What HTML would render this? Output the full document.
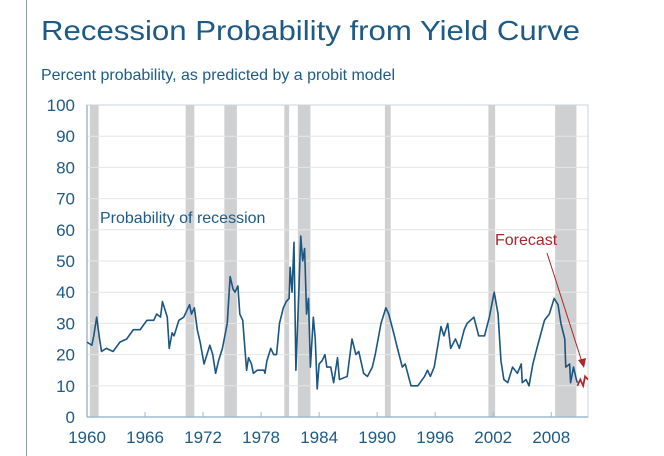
<!DOCTYPE html>
<html><head><meta charset="utf-8"><style>
body{margin:0;background:#fff;}
svg{display:block;font-family:"Liberation Sans",sans-serif;}
</style></head><body>
<svg id="chart" width="664" height="456" viewBox="0 0 664 456">
<line x1="26.5" y1="0" x2="26.5" y2="456" stroke="#8d9bb0" stroke-width="1"/>
<text x="41" y="40" font-size="28" fill="#1d5a85" textLength="539" lengthAdjust="spacingAndGlyphs">Recession Probability from Yield Curve</text>
<text x="41" y="80" font-size="16" fill="#1d5a85" textLength="354" lengthAdjust="spacingAndGlyphs">Percent probability, as predicted by a probit model</text>
<g id="plot"></g>
</svg>
<script>
const yTicks=[0,10,20,30,40,50,60,70,80,90,100];
const xTicks=[1960,1966,1972,1978,1984,1990,1996,2002,2008];
const recStart=[1960.3,1970.2,1974.2,1980.4,1981.8,1990.8,2001.5,2008.4];
const recEnd=[1961.2,1971.1,1975.5,1980.9,1983.1,1991.4,2002.2,2010.6];
const years=[1960.0,1960.5,1960.7,1961.0,1961.3,1961.5,1962.0,1962.7,1963.4,1964.1,1964.8,1965.5,1966.2,1966.9,1967.2,1967.6,1967.8,1968.3,1968.5,1968.8,1969.0,1969.5,1970.0,1970.3,1970.6,1970.8,1971.1,1971.4,1971.7,1972.1,1972.4,1972.7,1973.0,1973.3,1973.6,1974.0,1974.5,1974.8,1975.1,1975.3,1975.6,1975.8,1976.1,1976.5,1976.7,1977.0,1977.2,1977.6,1978.3,1978.4,1978.6,1979.0,1979.3,1979.6,1979.9,1980.3,1980.6,1980.9,1981.0,1981.2,1981.4,1981.6,1981.9,1982.1,1982.3,1982.5,1982.7,1982.9,1983.1,1983.4,1983.6,1983.8,1984.0,1984.3,1984.6,1984.8,1985.2,1985.5,1985.9,1986.1,1986.9,1987.4,1987.8,1988.1,1988.6,1989.0,1989.5,1989.8,1990.4,1990.9,1991.2,1991.7,1992.1,1992.6,1992.9,1993.5,1994.2,1994.9,1995.2,1995.5,1995.9,1996.6,1996.9,1997.3,1997.6,1998.1,1998.5,1999.0,1999.3,2000.0,2000.5,2001.1,2001.6,2002.1,2002.5,2002.8,2003.1,2003.5,2004.0,2004.5,2004.9,2005.0,2005.4,2005.7,2006.1,2006.6,2007.3,2007.8,2008.3,2008.7,2009.0,2009.4,2009.5,2009.9,2010.0,2010.3,2010.6,2010.7];
const probs=[24,23,26,32,25,21,22,21,24,25,28,28,31,31,33,32,37,32,22,27,26,31,32,34,36,33,35,28,24,17,20,23,20,14,18,22,30,45,41,40,42,33,31,15,19,17,14,15,15,14,18,22,20,20,30,35,37,38,48,40,56,15,40,58,50,54,33,38,16,32,25,9,17,18,20,16,16,11,19,12,13,25,20,21,14,13,16,20,30,35,33,27,22,16,17,10,10,13,15,13,16,29,26,30,22,25,22,28,30,32,26,26,32,40,33,18,12,11,16,14,17,11,12,10,17,23,31,33,38,36,30,25,16,17,11,16,12,11];
const fcYears=[2010.7,2011.0,2011.3,2011.5,2011.8];
const fcProbs=[10,12,10,13,12];

const L=87,R=588,T=105,B=417,X0=1960,X1=2011.8;
const xs=y=>L+(y-X0)/(X1-X0)*(R-L);
const ys=v=>B-v/100*(B-T);
const NS='http://www.w3.org/2000/svg';
const g=document.getElementById('plot');
function mk(tag,attrs,parent){const e=document.createElementNS(NS,tag);for(const k in attrs)e.setAttribute(k,attrs[k]);(parent||g).appendChild(e);return e;}

recStart.forEach((s,i)=>{
  const r=mk('rect',{x:xs(s),y:T,width:xs(recEnd[i])-xs(s),height:B-T,fill:'#cfd0d2'});
  
  
});
yTicks.forEach(v=>{
  if(v>0&&v<100){const l=mk('line',{x1:L,x2:R,y1:ys(v),y2:ys(v),stroke:'#e6e6e6','stroke-width':1});
  
  }
  const t=mk('text',{x:75,y:ys(v)+6,'text-anchor':'end','font-size':17,fill:'#1d5a85'});
  
  
  t.textContent=v;
});
const frame=mk('rect',{x:L,y:T,width:R-L,height:B-T,fill:'none',stroke:'#c9d3dc','stroke-width':1});


const ax=mk('line',{x1:L,x2:R,y1:B,y2:B,stroke:'#9dbad0','stroke-width':1.5});


const ay=mk('line',{x1:L,x2:L,y1:T,y2:B,stroke:'#9dbad0','stroke-width':1.5});


xTicks.forEach(y=>{
  const tk=mk('line',{x1:xs(y),x2:xs(y),y1:B,y2:B-5,stroke:'#9dbad0','stroke-width':1});
  
  
  const t=mk('text',{x:xs(y),y:443,'text-anchor':'middle','font-size':17,fill:'#1d5a85'});
  
  
  t.textContent=y;
});
const p=mk('polyline',{points:years.map((y,i)=>xs(y)+','+ys(probs[i])).join(' '),fill:'none',stroke:'#1b5580','stroke-width':1.6,'stroke-linejoin':'round'});


const f=mk('polyline',{points:fcYears.map((y,i)=>xs(y)+','+ys(fcProbs[i])).join(' '),fill:'none',stroke:'#b0282d','stroke-width':1.8});


const lab=mk('text',{x:100,y:223,'font-size':16,fill:'#1d5a85'});


lab.textContent='Probability of recession';
const fl=mk('text',{x:495,y:245,'font-size':16,fill:'#a8262c'});


fl.textContent='Forecast';
const ar=mk('line',{x1:547,y1:253,x2:582,y2:362,stroke:'#a8262c','stroke-width':1});


const ah=mk('polygon',{points:'584,368 578,360 586,358',fill:'#a8262c'});


</script>
</body></html>
